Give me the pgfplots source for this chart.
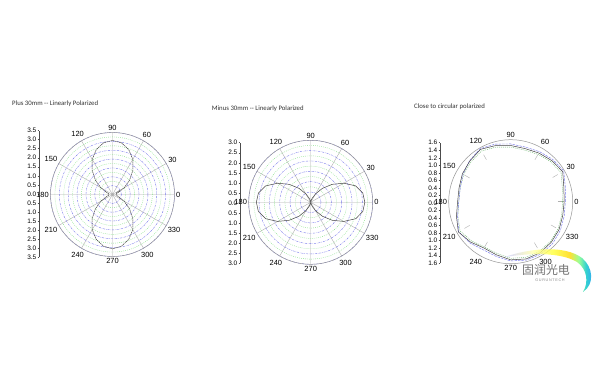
\documentclass[border=0pt]{standalone}
\usepackage{fontspec}
\setmainfont{Liberation Sans}
\newfontfamily\titlefont{Carlito}
\newfontfamily\cjk{Noto Sans CJK SC}
\usepackage{pgfplots}
\pgfplotsset{compat=1.18}
\usepgfplotslibrary{polar}
\definecolor{spoke}{RGB}{175,175,175}
\definecolor{ring}{RGB}{150,150,150}
\definecolor{gblue}{RGB}{120,120,235}
\definecolor{ggreen}{RGB}{130,225,130}
\definecolor{curve}{RGB}{70,70,70}
\pgfdeclarehorizontalshading{wm}{100bp}{color(0bp)=(blue!20!white); color(25bp)=(blue!20!white); color(40bp)=(yellow!30!white); color(52bp)=(yellow!80!white); color(61bp)=(yellow!70!orange); color(66bp)=(green!50!white); color(70bp)=(teal!45!cyan); color(75bp)=(blue!50!cyan); color(100bp)=(blue!50!cyan)}
\pgfplotsset{
 mypolar/.style={
  scale only axis, width=124bp, height=124bp,
  ymin=0,
  xtick={0,30,...,330},
  xticklabels={0,30,60,90,120,150,180,210,240,270,300,330},
  xticklabel style={font=\fontsize{7.5}{8}\selectfont, inner sep=1.5bp},
  yticklabel={\relax},
  grid=both,
  minor y tick num=1,
  major x grid style={spoke, line width=0.4bp},
  major y grid style={gblue, line width=0.4bp, dash pattern=on 2bp off 1bp on 0.5bp off 1bp},
  minor y grid style={ggreen, line width=0.4bp, dash pattern=on 0.8bp off 1.2bp},
  axis line style={ring, line width=0.5bp},
  y axis line style={draw=none},
  major tick length=0pt, minor tick length=0pt,
  anchor=center,
 },
 leftax/.style={
  scale only axis, width=5bp,
  axis x line=none, axis y line=left,
  y axis line style={-, black!70, line width=0.4bp},
  xmin=0, xmax=1,
  tick align=outside, major tick length=1.5bp,
  ytick style={black!70, line width=0.4bp},
  yticklabel style={font=\fontsize{6.5}{7}\selectfont, inner sep=1bp},
  anchor=west,
 }
}
\begin{document}
\begin{tikzpicture}
\fill[white] (0,0) rectangle (600bp,372bp);
\path[use as bounding box] (0,0) rectangle (600bp,372bp);

% titles
\node[anchor=west, inner sep=0, font=\titlefont\fontsize{6.8}{7.5}\selectfont, text=black!80] at (12bp,268.7bp) {Plus 30mm -- Linearly Polarized};
\node[anchor=west, inner sep=0, font=\titlefont\fontsize{6.8}{7.5}\selectfont, text=black!80] at (211.7bp,263bp) {Minus 30mm -- Linearly Polarized};
\node[anchor=west, inner sep=0, font=\titlefont\fontsize{6.8}{7.5}\selectfont, text=black!80] at (414bp,265.3bp) {Close to circular polarized};

% ---------- plot 1 ----------
\begin{axis}[leftax, at={(39bp,178bp)}, height=127bp, ymin=-3.5, ymax=3.5,
  ytick={-3.5,-3,...,3.5},
  yticklabels={3.5,3.0,2.5,2.0,1.5,1.0,0.5,0.0,0.5,1.0,1.5,2.0,2.5,3.0,3.5}]
\addplot[draw=none] coordinates {(0,0)};
\end{axis}
\begin{polaraxis}[mypolar, at={(112.5bp,177.5bp)}, ymax=3.5, ytick={0.5,1,...,3.5}]
\addplot[curve, line width=0.5bp, dash pattern=on 1.5bp off 0.6bp] coordinates {
(0,0.2) (10,0.22) (20,0.36) (30,0.76) (40,1.26) (50,1.79) (60,2.29) (70,2.69) (80,2.96) (90,3.05)
(100,2.96) (110,2.69) (120,2.29) (130,1.79) (140,1.26) (150,0.76) (160,0.36) (170,0.22) (180,0.2)
(190,0.22) (200,0.36) (210,0.76) (220,1.26) (230,1.79) (240,2.29) (250,2.69) (260,2.96) (270,3.07)
(280,2.96) (290,2.69) (300,2.29) (310,1.79) (320,1.26) (330,0.76) (340,0.36) (350,0.22) (360,0.2)};
\addplot[curve, line width=0.5bp, dash pattern=on 1.5bp off 0.6bp] coordinates {(25,0.25) (30,0.5)};
\end{polaraxis}

% ---------- plot 2 ----------
\begin{axis}[leftax, at={(240bp,169bp)}, height=120.6bp, ymin=-3, ymax=3,
  ytick={-3,-2.5,...,3},
  yticklabels={3.0,2.5,2.0,1.5,1.0,0.5,0.0,0.5,1.0,1.5,2.0,2.5,3.0}]
\addplot[draw=none] coordinates {(0,0)};
\end{axis}
\begin{polaraxis}[mypolar, at={(310.7bp,169.7bp)}, ymax=3, ytick={0.5,1,...,3}]
\addplot[curve, line width=0.5bp] coordinates {
(0,2.62) (10,2.56) (20,2.32) (30,1.85) (40,1.35) (50,0.88) (60,0.47) (70,0.2) (80,0.06) (90,0.02)
(100,0.06) (110,0.2) (120,0.47) (130,0.88) (140,1.35) (150,1.85) (160,2.32) (170,2.57) (180,2.63)
(190,2.57) (200,2.32) (210,1.85) (220,1.35) (230,0.88) (240,0.47) (250,0.2) (260,0.06) (270,0.02)
(280,0.06) (290,0.2) (300,0.47) (310,0.88) (320,1.35) (330,1.85) (340,2.32) (350,2.56) (360,2.62)};
\end{polaraxis}

% ---------- plot 3 ----------
\begin{axis}[leftax, at={(440bp,169bp)}, height=120.6bp, ymin=-1.6, ymax=1.6,
  ytick={-1.6,-1.4,-1.2,-1.0,-0.8,-0.6,-0.4,-0.2,0,0.2,0.4,0.6,0.8,1.0,1.2,1.4,1.6},
  yticklabels={1.6,1.4,1.2,1.0,0.8,0.6,0.4,0.2,0.0,0.2,0.4,0.6,0.8,1.0,1.2,1.4,1.6}]
\addplot[draw=none] coordinates {(0,0)};
\end{axis}
\begin{polaraxis}[mypolar, at={(510.7bp,170.3bp)}, ymax=1.6, ytick={1.6}, grid=none]
% short spoke marks
\addplot[spoke, line width=0.4bp, forget plot] coordinates {(0,1.22) (0,1.38)};
\addplot[spoke, line width=0.4bp, forget plot] coordinates {(30,1.25) (30,1.40)};
\addplot[spoke, line width=0.4bp, forget plot] coordinates {(60,1.25) (60,1.40)};
\addplot[spoke, line width=0.4bp, forget plot] coordinates {(120,1.25) (120,1.40)};
\addplot[spoke, line width=0.4bp, forget plot] coordinates {(150,1.22) (150,1.38)};
\addplot[spoke, line width=0.4bp, forget plot] coordinates {(210,1.22) (210,1.38)};
\addplot[spoke, line width=0.4bp, forget plot] coordinates {(240,1.20) (240,1.35)};
\addplot[spoke, line width=0.4bp, forget plot] coordinates {(300,1.22) (300,1.38)};
\addplot[spoke, line width=0.4bp, forget plot] coordinates {(330,1.20) (330,1.35)};
\addplot[ggreen!80!black, line width=0.4bp, dash pattern=on 1bp off 1bp] coordinates {
(0,1.34) (15,1.38) (30,1.50) (45,1.46) (60,1.41) (75,1.38) (90,1.41) (105,1.46) (120,1.51) (135,1.45)
(150,1.40) (165,1.35) (180,1.34) (195,1.41) (210,1.51) (225,1.43) (240,1.35) (255,1.38) (270,1.46)
(285,1.49) (300,1.48) (315,1.45) (330,1.41) (345,1.36) (360,1.34)};
\addplot[gblue, line width=0.45bp, dash pattern=on 2.5bp off 1bp] coordinates {
(0,1.41) (15,1.46) (30,1.58) (45,1.54) (60,1.49) (75,1.46) (90,1.49) (105,1.54) (120,1.58) (135,1.50)
(150,1.42) (165,1.35) (180,1.34) (195,1.42) (210,1.55) (225,1.50) (240,1.43) (255,1.46) (270,1.53)
(285,1.56) (300,1.56) (315,1.53) (330,1.48) (345,1.43) (360,1.41)};
\addplot[curve, line width=0.5bp] coordinates {
(0,1.38) (15,1.42) (30,1.55) (45,1.50) (60,1.45) (75,1.42) (90,1.45) (105,1.50) (120,1.56) (135,1.49)
(150,1.44) (165,1.38) (180,1.37) (195,1.45) (210,1.56) (225,1.47) (240,1.38) (255,1.42) (270,1.50)
(285,1.53) (300,1.52) (315,1.48) (330,1.44) (345,1.39) (360,1.38)};
\end{polaraxis}

% ---------- watermark ----------
\shade[shading=wm, opacity=0.8] (505bp,115bp) .. controls (530bp,124bp) and (565bp,127bp) .. (582bp,114bp)
  .. controls (593bp,105bp) and (595bp,88bp) .. (583bp,80bp)
  .. controls (589bp,90bp) and (587bp,103bp) .. (577bp,110bp)
  .. controls (560bp,120bp) and (530bp,119bp) .. (505bp,115bp) -- cycle;
\node[inner sep=0, text=black!55, font=\cjk\fontsize{12}{13}\selectfont] at (546bp,102bp) {固润光电};
\node[inner sep=0, text=black!45, font=\fontsize{3.8}{4}\selectfont] at (550bp,92bp) {G\,U\,R\,U\,N\,T\,E\,C\,H};
\end{tikzpicture}
\end{document}
